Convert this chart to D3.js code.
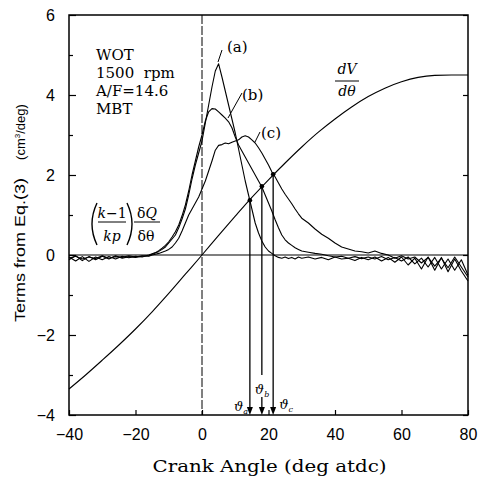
<!DOCTYPE html>
<html>
<head>
<meta charset="utf-8">
<script src="https://cdn.jsdelivr.net/npm/d3@7"></script>
<style>
body { margin: 0; background: #fff; }
</style>
</head>
<body>
<div id="vis-container"></div>
<script>
// crank angle samples shared by the three heat release curves
const angles = [-40,-38,-36,-34,-32,-30,-28,-26,-24,-22,-20,-18,-16,
  -15,-14,-13,-12,-11,-10,-9,-8,-7,-6,-5,-4,-3,-2,-1,0,1,2,3,4,5,6,7,8,9,10,
  11,12,13,14,15,16,17,18,19,20,21,22,23,24,25,26,27,28,29,30,
  32,34,36,38,40,42,44,46,48,50,52,54,56,58,60,62,64,66,68,70,72,74,76,78,80];

// (k-1)/kp dQ/dθ for the three cases
const curveA = [-0.12,-0.02,-0.14,-0.04,-0.12,-0.03,-0.1,-0.02,-0.08,-0.04,-0.06,-0.03,-0.02,
  0.02,0.05,0.09,0.14,0.2,0.3,0.4,0.5,0.68,0.9,1.15,1.5,1.9,2.25,2.55,2.85,3.3,3.75,4.2,4.6,4.78,4.45,4.1,3.75,3.4,3.05,
  2.65,2.25,1.85,1.5,1.15,0.8,0.55,0.35,0.2,0.1,0.04,-0.02,-0.06,-0.08,-0.05,-0.09,-0.06,-0.1,-0.05,-0.08,
  -0.05,-0.1,-0.06,-0.12,-0.05,-0.1,-0.08,-0.14,-0.06,-0.12,-0.05,-0.15,-0.06,-0.18,-0.05,-0.25,-0.08,-0.35,-0.05,-0.38,-0.06,-0.42,-0.1,-0.4,-0.65];
const curveB = [-0.05,-0.15,-0.04,-0.16,-0.05,-0.12,-0.04,-0.1,-0.03,-0.07,-0.03,-0.05,0.0,
  0.03,0.06,0.11,0.17,0.24,0.33,0.45,0.58,0.75,0.98,1.25,1.6,2.0,2.35,2.7,3.0,3.35,3.58,3.66,3.65,3.58,3.5,3.42,3.33,3.18,2.95,
  2.75,2.6,2.45,2.3,2.15,2.0,1.85,1.7,1.5,1.3,1.1,0.88,0.68,0.5,0.38,0.3,0.24,0.18,0.14,0.1,
  0.07,0.04,0.02,-0.02,-0.05,-0.03,-0.08,-0.04,-0.09,-0.05,-0.1,-0.04,-0.12,-0.06,-0.15,-0.05,-0.22,-0.08,-0.3,-0.06,-0.35,-0.1,-0.38,-0.12,-0.5];
const curveC = [-0.08,-0.03,-0.1,-0.05,-0.09,-0.02,-0.08,-0.04,-0.06,-0.02,-0.05,-0.02,-0.03,
  0.0,0.02,0.04,0.07,0.1,0.14,0.2,0.3,0.42,0.6,0.8,1.0,1.15,1.3,1.45,1.65,1.85,2.1,2.35,2.62,2.74,2.76,2.8,2.78,2.82,2.85,
  2.88,2.95,2.98,2.95,2.88,2.8,2.68,2.55,2.4,2.25,2.08,1.95,1.8,1.65,1.52,1.4,1.28,1.15,1.03,0.92,
  0.8,0.65,0.52,0.42,0.3,0.2,0.15,0.1,0.08,0.05,0.1,0.04,0.0,-0.08,-0.02,-0.1,-0.05,-0.2,-0.06,-0.28,-0.08,-0.32,-0.05,-0.3,-0.55];

// dV/dθ
const volAngles = [-40,-35,-30,-25,-20,-15,-10,-5,0,5,10,15,20,25,30,35,40,45,50,55,60,65,70,75,80];
const volRate = [-3.35,-3.0,-2.63,-2.25,-1.85,-1.42,-0.96,-0.48,0,0.49,0.97,1.44,1.88,2.3,2.7,3.07,3.4,3.7,3.96,4.17,4.33,4.44,4.49,4.5,4.5];

// intersection points θa, θb, θc
const thetaAngles = [14.4, 18, 21.4];
const thetaValues = [1.37, 1.72, 2.02];
const thetaNames = ["a", "b", "c"];

const xTicks = [-40, -20, 0, 20, 40, 60, 80];
const yTicks = [-4, -2, 0, 2, 4, 6];
const yMinor = [-3, -1, 1, 3, 5];
const infoLines = ["WOT", "1500  rpm", "A/F=14.6", "MBT"];

let width = 494, height = 482;
let margins = {top: 15, right: 26, bottom: 67, left: 69};
let visWidth = width - margins.left - margins.right;
let visHeight = height - margins.top - margins.bottom;

let svg = d3.select("#vis-container").append("svg")
    .attr("width", width)
    .attr("height", height)
    .style("display", "block");

let viewport = svg.append("g")
    .attr("transform", "translate(" + margins.left + "," + margins.top + ")");

let x = d3.scaleLinear().domain([-40, 80]).range([0, visWidth]);
let y = d3.scaleLinear().domain([-4, 6]).range([visHeight, 0]);

const serif = "'DejaVu Serif', 'Liberation Serif', serif";
const sans = "'Liberation Sans', Arial, sans-serif";

// axes, ticks pointing inward
let xAxis = viewport.append("g")
    .attr("transform", "translate(0," + visHeight + ")")
    .call(d3.axisBottom(x).tickValues(xTicks).tickSizeInner(-5).tickSizeOuter(0).tickPadding(14));
let yAxis = viewport.append("g")
    .call(d3.axisLeft(y).tickValues(yTicks).tickSizeInner(-7).tickSizeOuter(0).tickPadding(14));
viewport.append("g")
    .call(d3.axisLeft(y).tickValues(yMinor).tickSize(-4).tickFormat(""));
viewport.append("g")
    .attr("transform", "translate(" + visWidth + ",0)")
    .call(d3.axisRight(y).tickValues(yTicks).tickSize(-5).tickFormat(""));
viewport.selectAll(".domain").remove();
viewport.selectAll(".tick line").attr("stroke", "#000").attr("stroke-width", 1.2);
[xAxis, yAxis].forEach(a => a.selectAll("text")
    .attr("fill", "#000")
    .style("font-family", sans)
    .style("font-size", "16px"));

// frame
viewport.append("rect")
    .attr("x", 0).attr("y", 0)
    .attr("width", visWidth).attr("height", visHeight)
    .attr("fill", "none")
    .attr("stroke", "#000")
    .attr("stroke-width", 1.5);

// zero lines
viewport.append("line")
    .attr("x1", 0).attr("x2", visWidth)
    .attr("y1", y(0)).attr("y2", y(0))
    .attr("stroke", "#000").attr("stroke-width", 1.2);
viewport.append("line")
    .attr("x1", x(0)).attr("x2", x(0))
    .attr("y1", 0).attr("y2", visHeight)
    .attr("stroke", "#000").attr("stroke-width", 1)
    .attr("stroke-dasharray", "9,2");

let line = d3.line()
    .x((d, i) => x(angles[i]))
    .y(d => y(d));

[curveA, curveB, curveC].forEach(c => {
    viewport.append("path")
        .datum(c)
        .attr("fill", "none")
        .attr("stroke", "#000")
        .attr("stroke-width", 1.1)
        .attr("stroke-linejoin", "round")
        .attr("d", line);
});

viewport.append("path")
    .datum(volRate)
    .attr("fill", "none")
    .attr("stroke", "#000")
    .attr("stroke-width", 1.1)
    .attr("d", d3.line().curve(d3.curveMonotoneX)
        .x((d, i) => x(volAngles[i]))
        .y(d => y(d)));

// θ markers: dot, drop line and arrow
thetaAngles.forEach((t, i) => {
    let px = x(t);
    let gapTop = thetaNames[i] == "b" ? y(-3.0) : y(-4) - 7;
    viewport.append("line")
        .attr("x1", px).attr("x2", px)
        .attr("y1", y(thetaValues[i])).attr("y2", gapTop)
        .attr("stroke", "#000").attr("stroke-width", 1.3);
    if (thetaNames[i] == "b") {
        viewport.append("line")
            .attr("x1", px).attr("x2", px)
            .attr("y1", y(-3.55)).attr("y2", y(-4) - 7)
            .attr("stroke", "#000").attr("stroke-width", 1.3);
    }
    viewport.append("path")
        .attr("d", "M" + (px - 3) + "," + (y(-4) - 8) + "L" + (px + 3) + "," + (y(-4) - 8) + "L" + px + "," + y(-4) + "Z")
        .attr("fill", "#000");
    viewport.append("circle")
        .attr("cx", px).attr("cy", y(thetaValues[i]))
        .attr("r", 2.3).attr("fill", "#000");
});

// θ labels
let thetaLabelPos = [[-16, -4], [-7, -21], [6, -6]];
thetaAngles.forEach((t, i) => {
    let tx = viewport.append("text")
        .attr("x", x(t) + thetaLabelPos[i][0])
        .attr("y", y(-4) + thetaLabelPos[i][1])
        .attr("text-anchor", "start")
        .style("font-family", serif)
        .style("font-style", "italic")
        .style("font-size", "13px")
        .text("ϑ");
    tx.append("tspan").attr("dy", 3).style("font-size", "8px").text(thetaNames[i]);
});

// info block
infoLines.forEach((s, i) => {
    viewport.append("text")
        .attr("x", 27)
        .attr("y", 45 + i * 18)
        .style("font-family", serif)
        .style("font-size", "15px")
        .style("white-space", "pre")
        .text(s);
});

// curve labels with leaders
let curveLabels = [
    {t: "(a)", lx: 158, ly: 37, x1: 153, y1: 35, x2: 149, y2: 47},
    {t: "(b)", lx: 173, ly: 85, x1: 173, y1: 78, x2: 159, y2: 103},
    {t: "(c)", lx: 192, ly: 123, x1: 191, y1: 117, x2: 186, y2: 127}
];
curveLabels.forEach(c => {
    viewport.append("text")
        .attr("x", c.lx).attr("y", c.ly)
        .style("font-family", serif)
        .style("font-size", "15px")
        .text(c.t);
    viewport.append("line")
        .attr("x1", c.x1).attr("y1", c.y1)
        .attr("x2", c.x2).attr("y2", c.y2)
        .attr("stroke", "#000").attr("stroke-width", 1);
});

// dV/dθ label
viewport.append("text").attr("x", 278).attr("y", 59).attr("text-anchor", "middle")
    .style("font-family", serif).style("font-style", "italic").style("font-size", "14px").text("dV");
viewport.append("line").attr("x1", 266).attr("x2", 290).attr("y1", 66).attr("y2", 66)
    .attr("stroke", "#000").attr("stroke-width", 1);
viewport.append("text").attr("x", 278).attr("y", 81).attr("text-anchor", "middle")
    .style("font-family", serif).style("font-style", "italic").style("font-size", "14px").text("dθ");

// (k-1)/kp δQ/δθ label
let q = viewport.append("g");
q.append("path").attr("d", "M28,188 Q18,209 28,230").attr("fill", "none").attr("stroke", "#000").attr("stroke-width", 1.4);
q.append("path").attr("d", "M58,188 Q68,209 58,230").attr("fill", "none").attr("stroke", "#000").attr("stroke-width", 1.4);
q.append("text").attr("x", 43).attr("y", 203).attr("text-anchor", "middle")
    .style("font-family", serif).style("font-size", "14px")
    .html("<tspan font-style='italic'>k</tspan>−1");
q.append("line").attr("x1", 29).attr("x2", 57).attr("y1", 207).attr("y2", 207).attr("stroke", "#000").attr("stroke-width", 1);
q.append("text").attr("x", 43).attr("y", 226).attr("text-anchor", "middle")
    .style("font-family", serif).style("font-style", "italic").style("font-size", "14px").text("kp");
q.append("text").attr("x", 78).attr("y", 203).attr("text-anchor", "middle")
    .style("font-family", serif).style("font-size", "14px")
    .html("δ<tspan font-style='italic'>Q</tspan>");
q.append("line").attr("x1", 65).attr("x2", 91).attr("y1", 207).attr("y2", 207).attr("stroke", "#000").attr("stroke-width", 1);
q.append("text").attr("x", 77).attr("y", 226).attr("text-anchor", "middle")
    .style("font-family", serif).style("font-size", "14px").text("δθ");

// axis titles
svg.append("text")
    .attr("x", margins.left + visWidth / 2 + 1)
    .attr("y", 472)
    .attr("text-anchor", "middle")
    .attr("textLength", 234)
    .attr("lengthAdjust", "spacingAndGlyphs")
    .style("font-family", serif)
    .style("font-size", "16px")
    .text("Crank Angle (deg atdc)");

svg.append("text")
    .attr("transform", "translate(25,250) rotate(-90)")
    .attr("text-anchor", "middle")
    .attr("textLength", 144)
    .attr("lengthAdjust", "spacingAndGlyphs")
    .style("font-family", sans)
    .style("font-size", "14px")
    .text("Terms from Eq.(3)");
svg.append("text")
    .attr("transform", "translate(25,132) rotate(-90)")
    .attr("text-anchor", "middle")
    .style("font-family", sans)
    .style("font-size", "13px")
    .html("(cm<tspan dy='-5' font-size='8px'>3</tspan><tspan dy='5'>/deg)</tspan>");
</script>
</body>
</html>
